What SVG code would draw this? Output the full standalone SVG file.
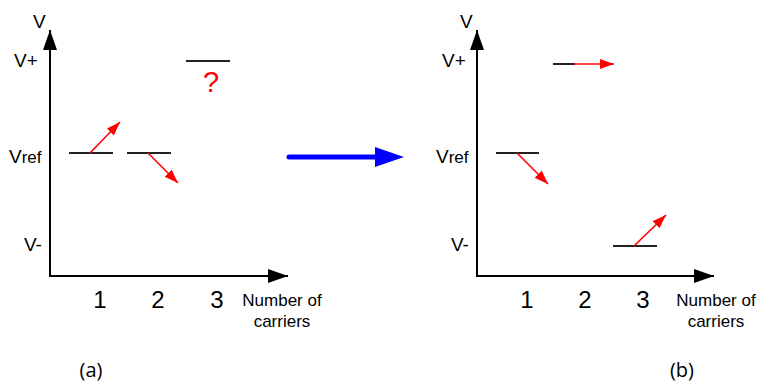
<svg xmlns="http://www.w3.org/2000/svg" width="757" height="383" viewBox="0 0 757 383">
<style>
.axis{stroke:#000;stroke-width:2;fill:none}
.lvl{stroke:#222;stroke-width:2;fill:none}
.red{stroke:#f00;stroke-width:1.6;fill:none}
.t{font-family:"Liberation Sans",Arial,sans-serif;fill:#000}
.lab{font-size:19px}
.num{font-size:24px;text-anchor:middle}
.small{font-size:17px;text-anchor:middle}
.cap{font-family:"Open Sans","Liberation Sans",sans-serif;font-size:20px;text-anchor:middle;fill:#000}
</style>
<defs>
<marker id="ah" markerUnits="userSpaceOnUse" markerWidth="22" markerHeight="16" refX="20" refY="7" orient="auto">
<path d="M0,0 L20,7 L0,14 Z" fill="#000"/>
</marker>
<marker id="rh" markerUnits="userSpaceOnUse" markerWidth="16" markerHeight="12" refX="14" refY="5" orient="auto">
<path d="M0,0 L14,5 L0,10 Z" fill="#f00"/>
</marker>
</defs>

<g id="panel-a">
<g id="axes-a">
<line class="axis" x1="50" y1="277" x2="50" y2="30" marker-end="url(#ah)"/>
<line class="axis" x1="49" y1="276" x2="288" y2="276" marker-end="url(#ah)"/>
</g>
<g id="labels-a">
<text class="t lab" x="33" y="28">V</text>
<text class="t lab" x="14" y="67">V+</text>
<text class="t lab" x="9" y="163">V<tspan font-size="17">ref</tspan></text>
<text class="t lab" x="24" y="251">V-</text>
<text class="t num" x="100" y="308">1</text>
<text class="t num" x="158" y="308">2</text>
<text class="t num" x="217" y="308">3</text>
<text class="t small" x="282" y="306">Number of</text>
<text class="t small" x="282" y="327">carriers</text>
<text class="cap" x="91" y="377">(a)</text>
</g>
<g id="level-a1"><line class="lvl" x1="69" y1="153" x2="113" y2="153"/></g>
<g id="level-a2"><line class="lvl" x1="127" y1="153" x2="171" y2="153"/></g>
<g id="level-a3"><line class="lvl" x1="186" y1="61" x2="230" y2="61"/>
<text class="t" x="211" y="92" font-size="29" text-anchor="middle" style="fill:#f00">?</text></g>
</g>

<g id="panel-b">
<g id="axes-b">
<line class="axis" x1="477" y1="277" x2="477" y2="30" marker-end="url(#ah)"/>
<line class="axis" x1="476" y1="276" x2="714" y2="276" marker-end="url(#ah)"/>
</g>
<g id="labels-b">
<text class="t lab" x="460" y="28">V</text>
<text class="t lab" x="442" y="67">V+</text>
<text class="t lab" x="436" y="163">V<tspan font-size="17">ref</tspan></text>
<text class="t lab" x="451" y="251">V-</text>
<text class="t num" x="527" y="308">1</text>
<text class="t num" x="585" y="308">2</text>
<text class="t num" x="643" y="308">3</text>
<text class="t small" x="716" y="306">Number of</text>
<text class="t small" x="716" y="327">carriers</text>
<text class="cap" x="682" y="377">(b)</text>
</g>
<g id="level-b1"><line class="lvl" x1="553" y1="64" x2="575" y2="64"/></g>
<g id="level-b2"><line class="lvl" x1="496" y1="153" x2="539" y2="153"/></g>
<g id="level-b3"><line class="lvl" x1="613" y1="246" x2="657" y2="246"/></g>
</g>

<g id="connectors">
<line class="red" x1="90" y1="153" x2="120" y2="122" marker-end="url(#rh)"/>
<line class="red" x1="148" y1="153" x2="178" y2="183" marker-end="url(#rh)"/>
<line class="red" x1="574" y1="64" x2="614" y2="64" marker-end="url(#rh)"/>
<line class="red" x1="517" y1="153" x2="548" y2="184" marker-end="url(#rh)"/>
<line class="red" x1="634" y1="246" x2="666" y2="215" marker-end="url(#rh)"/>
<line x1="289" y1="157" x2="378" y2="157" stroke="#00f" stroke-width="5" stroke-linecap="round"/>
<path d="M375,147 L404,157 L375,167 Z" fill="#00f"/>
</g>
</svg>
